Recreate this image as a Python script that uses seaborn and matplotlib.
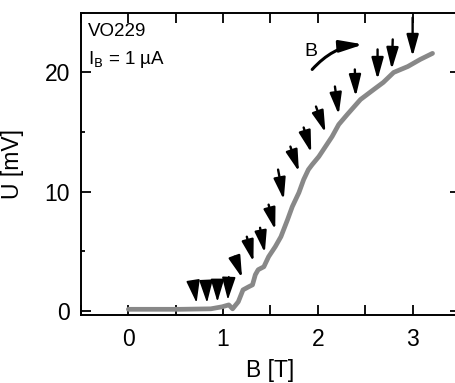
import matplotlib
matplotlib.use("Agg")
import matplotlib.pyplot as plt
from matplotlib.ticker import MultipleLocator
import seaborn as sns
import pandas as pd

# U(B) trace
field = [0.00, 0.55, 0.87, 0.99, 1.06, 1.10, 1.16, 1.21, 1.27, 1.31, 1.34, 1.37,
         1.43, 1.48, 1.55, 1.61, 1.68, 1.73, 1.80, 1.85, 1.90, 1.94, 2.01, 2.08,
         2.15, 2.22, 2.31, 2.45, 2.59, 2.69, 2.80, 2.95, 3.08, 3.21]
voltage = [0.13, 0.13, 0.17, 0.34, 0.50, 0.17, 0.76, 1.76, 2.02, 2.18, 3.03, 3.45,
           3.70, 4.54, 5.38, 6.22, 7.65, 8.74, 9.92, 11.01, 11.85, 12.27, 12.94, 13.78,
           14.62, 15.63, 16.47, 17.73, 18.57, 19.16, 20.00, 20.50, 21.09, 21.60]

# arrow heads only (tail -> tip)
tri_tail_b = [0.69, 0.82, 0.94, 1.06]
tri_tail_u = [2.18, 2.44, 2.60, 2.86]
tri_tip_b = [0.72, 0.83, 0.94, 1.05]
tri_tip_u = [0.67, 0.67, 0.76, 0.92]

# arrows with shafts (tail -> tip)
arr_tail_b = [1.12, 1.25, 1.39, 1.48, 1.58, 1.71, 1.85, 1.98, 2.18, 2.39, 2.63, 2.79, 3.00]
arr_tail_u = [4.54, 6.22, 6.97, 8.91, 11.85, 13.78, 15.38, 17.14, 18.82, 20.25, 21.93, 22.77, 24.6]
arr_tip_b = [1.20, 1.32, 1.44, 1.55, 1.64, 1.80, 1.93, 2.08, 2.22, 2.40, 2.63, 2.78, 3.00]
arr_tip_u = [2.77, 4.12, 4.87, 6.81, 9.33, 11.68, 13.28, 14.96, 16.47, 17.98, 19.41, 20.25, 21.34]

df = pd.DataFrame({"B": field, "U": voltage})

sns.set_theme(style="ticks")
plt.rcParams["font.family"] = ["Liberation Sans", "DejaVu Sans"]
plt.rcParams["mathtext.default"] = "regular"
plt.rcParams["text.color"] = "black"
plt.rcParams["axes.labelcolor"] = "black"

fig = plt.figure(figsize=(4.55, 3.83), dpi=100)
ax = fig.add_axes([0.178, 0.1775, 0.833, 0.789])

sns.lineplot(data=df, x="B", y="U", ax=ax, color="#888888", lw=3.4,
             solid_capstyle="round")

for tb, tu, hb, hu in zip(tri_tail_b, tri_tail_u, tri_tip_b, tri_tip_u):
    ax.annotate("", xy=(hb, hu), xytext=(tb, tu),
                arrowprops=dict(arrowstyle="-|>,head_length=1.4,head_width=0.42",
                                color="black", lw=1.2, mutation_scale=10,
                                shrinkA=0, shrinkB=0))

for tb, tu, hb, hu in zip(arr_tail_b, arr_tail_u, arr_tip_b, arr_tip_u):
    ax.annotate("", xy=(hb, hu), xytext=(tb, tu),
                arrowprops=dict(arrowstyle="-|>,head_length=1.3,head_width=0.36",
                                color="black", lw=1.7, mutation_scale=10,
                                shrinkA=0, shrinkB=0))

# sweep direction
ax.annotate("", xy=(2.48, 22.35), xytext=(1.94, 20.25),
            arrowprops=dict(arrowstyle="-|>,head_length=1.4,head_width=0.35",
                            color="black", lw=2.2, mutation_scale=10,
                            shrinkA=0, shrinkB=0,
                            connectionstyle="arc3,rad=-0.2"))
ax.text(1.93, 21.75, "B", fontsize=14, ha="center", va="center")

ax.text(0.018, 0.937, "VO229", transform=ax.transAxes, fontsize=13.5,
        ha="left", va="center")
ax.text(0.018, 0.845, r"I$_\mathrm{B}$ = 1 µA", transform=ax.transAxes,
        fontsize=13.5, ha="left", va="center")

ax.set_xlim(-0.5, 3.5)
ax.set_ylim(-0.35, 25)
ax.xaxis.set_major_locator(MultipleLocator(1))
ax.xaxis.set_minor_locator(MultipleLocator(0.5))
ax.yaxis.set_major_locator(MultipleLocator(10))
ax.yaxis.set_minor_locator(MultipleLocator(5))

ax.tick_params(which="both", direction="in", top=True, right=True,
               width=1.3, labelsize=16.5, colors="black")
ax.tick_params(which="major", length=7)
ax.tick_params(which="minor", length=3)
ax.tick_params(axis="x", which="minor", length=7)
ax.tick_params(axis="x", pad=9)
ax.tick_params(axis="y", pad=8)
for s in ax.spines.values():
    s.set_linewidth(1.4)
    s.set_color("black")

ax.set_xlabel("B [T]", fontsize=16.5)
ax.set_ylabel("U [mV]", fontsize=16.5)
ax.xaxis.set_label_coords(0.5, -0.182)
ax.yaxis.set_label_coords(-0.18, 0.5)
ax.xaxis.label.set_va("center")
ax.yaxis.label.set_va("center")

fig.savefig("out.png", dpi=100)
plt.close(fig)
